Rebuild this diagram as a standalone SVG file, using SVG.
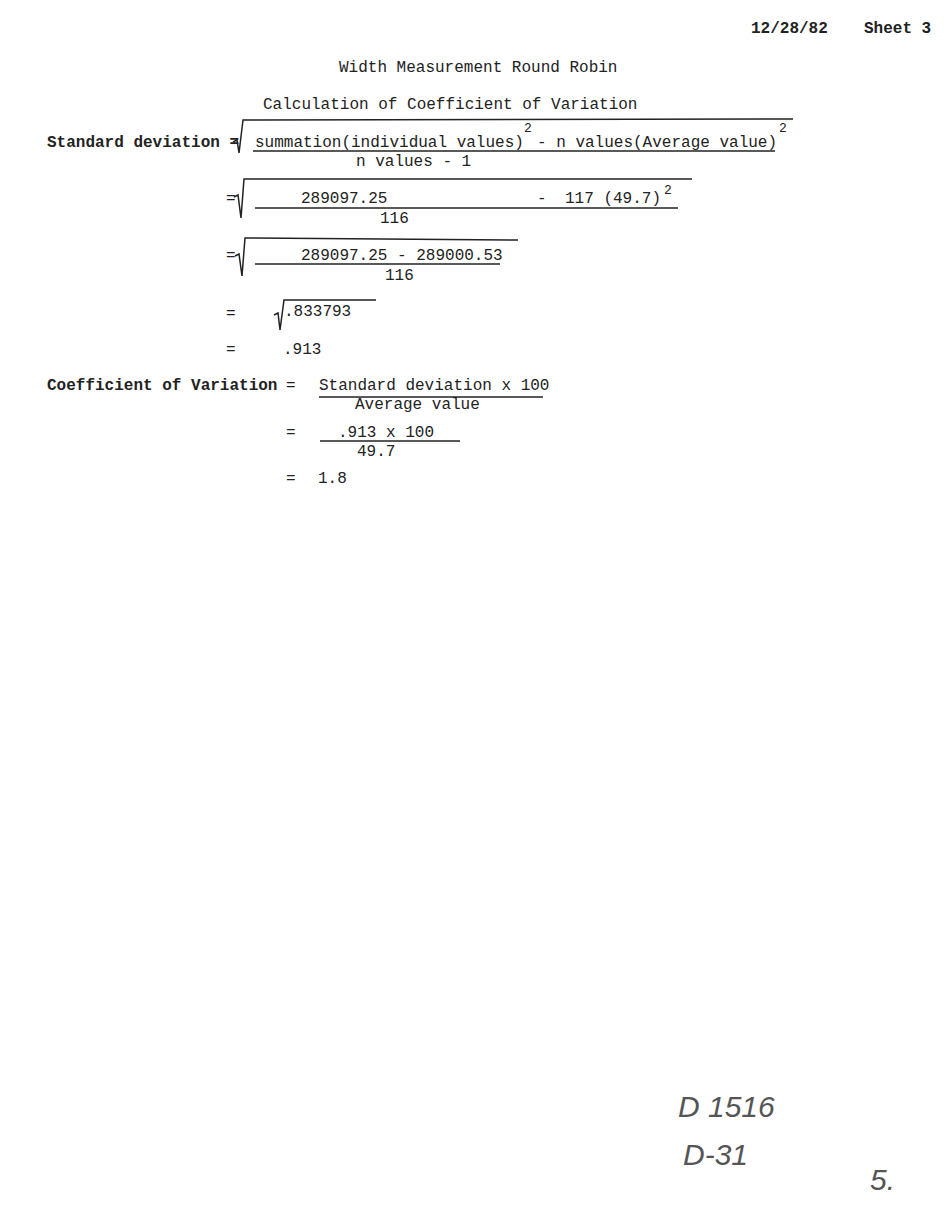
<svg xmlns="http://www.w3.org/2000/svg" width="950" height="1228" viewBox="0 0 950 1228">
<style>
text{font-family:"Liberation Mono","DejaVu Sans Mono",monospace;font-size:16px;fill:#222}
.b{font-weight:bold}
.s{font-size:13px}
.h{font-family:"Liberation Sans",sans-serif;font-size:30px;fill:#555;font-style:italic}
line,path{stroke:#222;stroke-width:1.5;fill:none}
</style>
<rect width="950" height="1228" fill="#fff"/>
<g id="header">
<text class="b" x="751" y="33">12/28/82</text>
<text class="b" x="864" y="33">Sheet 3</text>
<text x="339" y="72">Width Measurement Round Robin</text>
<text x="263" y="109">Calculation of Coefficient of Variation</text>
</g>
<g id="sd">
<text class="b" x="47" y="147">Standard deviation =</text>
<path d="M233,142 L237,140 L239,153 L243,120 L793,119"/>
<text x="255" y="147">summation(individual values)</text>
<text class="s" x="524" y="132">2</text>
<text x="537" y="147">- n values(Average value)</text>
<text class="s" x="779" y="132">2</text>
<line x1="253" y1="151" x2="775" y2="151"/>
<text x="356" y="166">n values - 1</text>
</g>
<g id="step2">
<text x="226" y="203">=</text>
<path d="M234,197 L238,195 L241,218 L244,179 L692,179"/>
<text x="301" y="203">289097.25</text>
<text x="537" y="203">-</text>
<text x="565" y="203">117 (49.7)</text>
<text class="s" x="664" y="194">2</text>
<line x1="255" y1="208" x2="678" y2="208"/>
<text x="380" y="223">116</text>
</g>
<g id="step3">
<text x="226" y="260">=</text>
<path d="M235,256 L239,254 L242,276 L245,238 L518,240"/>
<text x="301" y="260">289097.25 - 289000.53</text>
<line x1="255" y1="264" x2="500" y2="264"/>
<text x="385" y="280">116</text>
</g>
<g id="step4">
<text x="226" y="318">=</text>
<path d="M274,315 L278,313 L280,330 L284,300 L376,300"/>
<text x="284" y="316">.833793</text>
</g>
<g id="step5">
<text x="226" y="354">=</text>
<text x="283" y="354">.913</text>
</g>
<g id="cv">
<text class="b" x="47" y="390">Coefficient of Variation</text>
<text x="286" y="390">=</text>
<text x="319" y="390">Standard deviation x 100</text>
<line x1="319" y1="397" x2="543" y2="397"/>
<text x="355" y="409">Average value</text>
<text x="286" y="437">=</text>
<text x="338" y="437">.913 x 100</text>
<line x1="320" y1="441" x2="460" y2="441"/>
<text x="357" y="456">49.7</text>
<text x="286" y="483">=</text>
<text x="318" y="483">1.8</text>
</g>
<g id="handwriting">
<text class="h" x="678" y="1117">D 1516</text>
<text class="h" x="683" y="1165">D-31</text>
<text class="h" x="870" y="1190">5.</text>
</g>
</svg>
